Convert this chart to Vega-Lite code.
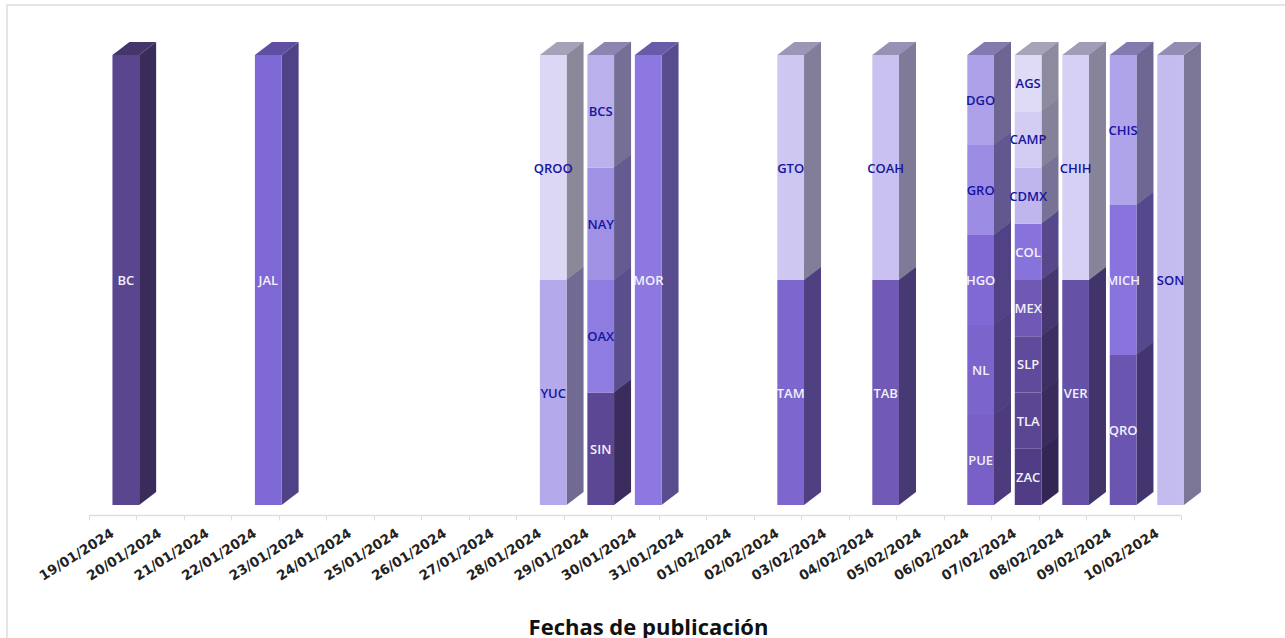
{"$schema":"https://vega.github.io/schema/vega-lite/v6.json","width":1283,"height":638,"autosize":"none","padding":{"left":7,"top":5,"right":-5,"bottom":-5},"background":"white","view":{"stroke":"#dddddd","strokeWidth":1.5},"data":{"values":[
{"date":"19/01/2024","state":"BC","level":1,"n":1,"value":1},
{"date":"22/01/2024","state":"JAL","level":1,"n":1,"value":1},
{"date":"28/01/2024","state":"YUC","level":1,"n":2,"value":1},
{"date":"28/01/2024","state":"QROO","level":2,"n":2,"value":1},
{"date":"29/01/2024","state":"SIN","level":1,"n":4,"value":1},
{"date":"29/01/2024","state":"OAX","level":2,"n":4,"value":1},
{"date":"29/01/2024","state":"NAY","level":3,"n":4,"value":1},
{"date":"29/01/2024","state":"BCS","level":4,"n":4,"value":1},
{"date":"30/01/2024","state":"MOR","level":1,"n":1,"value":1},
{"date":"02/02/2024","state":"TAM","level":1,"n":2,"value":1},
{"date":"02/02/2024","state":"GTO","level":2,"n":2,"value":1},
{"date":"04/02/2024","state":"TAB","level":1,"n":2,"value":1},
{"date":"04/02/2024","state":"COAH","level":2,"n":2,"value":1},
{"date":"06/02/2024","state":"PUE","level":1,"n":5,"value":1},
{"date":"06/02/2024","state":"NL","level":2,"n":5,"value":1},
{"date":"06/02/2024","state":"HGO","level":3,"n":5,"value":1},
{"date":"06/02/2024","state":"GRO","level":4,"n":5,"value":1},
{"date":"06/02/2024","state":"DGO","level":5,"n":5,"value":1},
{"date":"07/02/2024","state":"ZAC","level":1,"n":8,"value":1},
{"date":"07/02/2024","state":"TLA","level":2,"n":8,"value":1},
{"date":"07/02/2024","state":"SLP","level":3,"n":8,"value":1},
{"date":"07/02/2024","state":"MEX","level":4,"n":8,"value":1},
{"date":"07/02/2024","state":"COL","level":5,"n":8,"value":1},
{"date":"07/02/2024","state":"CDMX","level":6,"n":8,"value":1},
{"date":"07/02/2024","state":"CAMP","level":7,"n":8,"value":1},
{"date":"07/02/2024","state":"AGS","level":8,"n":8,"value":1},
{"date":"08/02/2024","state":"VER","level":1,"n":2,"value":1},
{"date":"08/02/2024","state":"CHIH","level":2,"n":2,"value":1},
{"date":"09/02/2024","state":"QRO","level":1,"n":3,"value":1},
{"date":"09/02/2024","state":"MICH","level":2,"n":3,"value":1},
{"date":"09/02/2024","state":"CHIS","level":3,"n":3,"value":1},
{"date":"10/02/2024","state":"SON","level":1,"n":1,"value":1}
]},
"resolve":{"scale":{"color":"independent"}},
"encoding":{"x":{"field":"date","type":"nominal","title":"Fechas de publicación","scale":{"domain":["19/01/2024","20/01/2024","21/01/2024","22/01/2024","23/01/2024","24/01/2024","25/01/2024","26/01/2024","27/01/2024","28/01/2024","29/01/2024","30/01/2024","31/01/2024","01/02/2024","02/02/2024","03/02/2024","04/02/2024","05/02/2024","06/02/2024","07/02/2024","08/02/2024","09/02/2024","10/02/2024"],"range":[81.7,1174],"paddingInner":0,"paddingOuter":0},
"axis":{"orient":"bottom","offset":-128,"tickBand":"extent","labelAngle":-32,"labelAlign":"right","labelBaseline":"middle","labelFont":"DejaVu Sans","labelFontWeight":"bold","labelFontSize":13.5,"labelColor":"#222222","labelPadding":12,"labelOverlap":false,"tickColor":"#dddddd","tickSize":5,"domainColor":"#dddddd","domainWidth":1.5,"grid":false,"titleFont":"Open Sans","titleFontWeight":"bold","titleFontSize":22,"titleColor":"#111111","titleX":641,"titleY":119,"titleBaseline":"alphabetic","titleAnchor":"middle"}}},
"layer":[
{"mark":{"type":"point","filled":true,"opacity":1,"size":4},
"encoding":{"y":{"field":"value","type":"quantitative","stack":"normalize","bandPosition":0.5,"axis":null,"scale":{"domain":[0,1],"range":[500,50],"nice":false,"zero":false}},
"order":{"field":"level","type":"quantitative"},
"color":{"field":"state","type":"nominal","legend":null,"scale":{"domain":["BC","JAL","QROO","YUC","BCS","NAY","OAX","SIN","MOR","GTO","TAM","COAH","TAB","DGO","GRO","HGO","NL","PUE","AGS","CAMP","CDMX","COL","MEX","SLP","TLA","ZAC","CHIH","VER","CHIS","MICH","QRO","SON"],"range":["#392C5A","#4F4287","#8B889A","#716A93","#756F95","#655B90","#5A4E8D","#3A2D5E","#594C8E","#827D98","#4F4082","#7F7A98","#473972","#6E6593","#62588F","#514285","#4D3F80","#4C3C7D","#8C8A9C","#858199","#787396","#56488B","#463771","#3C2F62","#392C5D","#322654","#87849A","#403468","#6E6793","#56488C","#433670","#7B7696"]}},
"shape":{"field":"n","type":"nominal","legend":null,"scale":{"domain":[1,2,3,4,5,8],"range":["M26.7 225L43.7 212L43.7 -238L26.7 -225Z","M26.7 112.5L43.7 99.5L43.7 -125.9L26.7 -112.9Z","M26.7 75L43.7 62L43.7 -88.4L26.7 -75.4Z","M26.7 56.25L43.7 43.25L43.7 -69.65L26.7 -56.65Z","M26.7 45L43.7 32L43.7 -58.4L26.7 -45.4Z","M26.7 28.125L43.7 15.125L43.7 -41.525L26.7 -28.525Z"]}}}},
{"transform":[{"filter":"datum.level == datum.n"}],"mark":{"type":"point","filled":true,"opacity":1,"size":4,"shape":"M0 0L26.7 0L43.7 -13L17 -13Z"},
"encoding":{"y":{"datum":1,"type":"quantitative"},"color":{"field":"state","type":"nominal","legend":null,"scale":{"domain":["BC","JAL","QROO","YUC","BCS","NAY","OAX","SIN","MOR","GTO","TAM","COAH","TAB","DGO","GRO","HGO","NL","PUE","AGS","CAMP","CDMX","COL","MEX","SLP","TLA","ZAC","CHIH","VER","CHIS","MICH","QRO","SON"],"range":["#44356B","#5F4EA1","#A5A1B8","#8780B0","#8C84B1","#786DAC","#6B5DA8","#453570","#6A5AAA","#9B95B6","#5E4D9B","#9792B5","#544488","#837AAF","#7569AB","#604F9F","#5C4B99","#5A4895","#A7A4B9","#9E9AB6","#8F89B3","#6656A5","#534287","#473874","#44356F","#3C2E64","#A09DB7","#4C3E7D","#837AB0","#6756A7","#504185","#938CB3"]}}}},
{"mark":{"type":"bar","size":26.7,"xOffset":13.35},
"encoding":{"y":{"field":"value","type":"quantitative","stack":"normalize"},"order":{"field":"level","type":"quantitative"},"color":{"field":"state","type":"nominal","legend":null,"scale":{"domain":["BC","JAL","QROO","YUC","BCS","NAY","OAX","SIN","MOR","GTO","TAM","COAH","TAB","DGO","GRO","HGO","NL","PUE","AGS","CAMP","CDMX","COL","MEX","SLP","TLA","ZAC","CHIH","VER","CHIS","MICH","QRO","SON"],"range":["#5A468F","#7E68D6","#DCD7F5","#B4A9EA","#BAB0EC","#A091E5","#8F7CE0","#5C4795","#8D78E2","#CEC7F2","#7D66CE","#C9C2F1","#705AB5","#AEA1E9","#9C8CE4","#8069D4","#7B64CC","#7860C6","#DFDBF7","#D3CDF3","#BFB6EE","#8872DC","#6F58B4","#5F4A9B","#5B4694","#503D85","#D6D1F4","#6552A6","#AFA3EA","#8973DF","#6A56B1","#C4BBEF"]}}}},
{"mark":{"type":"text","font":"Open Sans","fontWeight":600,"fontSize":13,"dx":13.35,"dy":1},
"encoding":{"y":{"field":"value","type":"quantitative","stack":"normalize","bandPosition":0.5},"order":{"field":"level","type":"quantitative"},"detail":{"field":"state"},"text":{"field":"state"},
"color":{"condition":{"test":"indexof(['BC','JAL','MOR','TAM','TAB','HGO','NL','PUE','COL','MEX','SLP','TLA','ZAC','VER','MICH','QRO','SIN'],datum.state)>=0","value":"#F2F0FB"},"value":"#1515A0"}}}
]}
